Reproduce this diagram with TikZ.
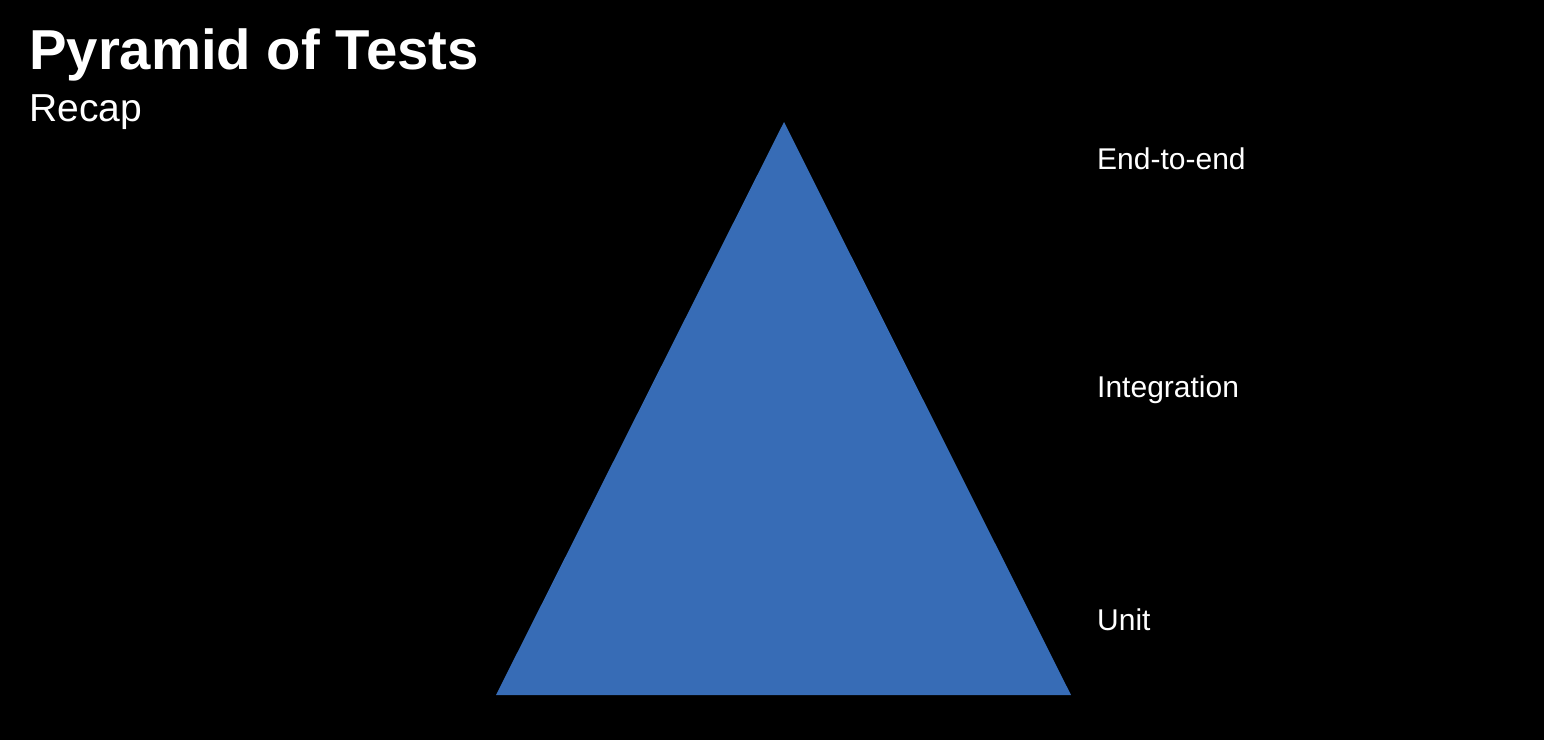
\documentclass[tikz,border=0pt]{standalone}
\usepackage{fontspec}
\setmainfont{Liberation Sans}
\definecolor{pyr}{HTML}{376CB6}
\begin{document}
\begin{tikzpicture}[x=1pt,y=-1pt,
  lbl/.style={anchor=base west,inner sep=0pt,text=white,font=\fontsize{30}{36}\selectfont}]
\fill[black] (0,0) rectangle (1544,740);
\useasboundingbox (0,0) rectangle (1544,740);
\node[anchor=base west,inner sep=0pt,text=white,font=\fontsize{56.3}{66}\selectfont\bfseries] (title) at (29,69) {Pyramid of Tests};
\node[anchor=base west,inner sep=0pt,text=white,font=\fontsize{39}{46}\selectfont] (sub) at (29,121) {Recap};
\coordinate (apex) at (784,122);
\coordinate (bl) at (496,695);
\coordinate (br) at (1071,695);
\fill[pyr] (apex) -- (br) -- (bl) -- cycle;
\node[lbl] (e2e) at (1097,169) {End-to-end};
\node[lbl] (integ) at (1097,397) {Integration};
\node[lbl] (unit) at (1097,630) {Unit};
\end{tikzpicture}
\end{document}
